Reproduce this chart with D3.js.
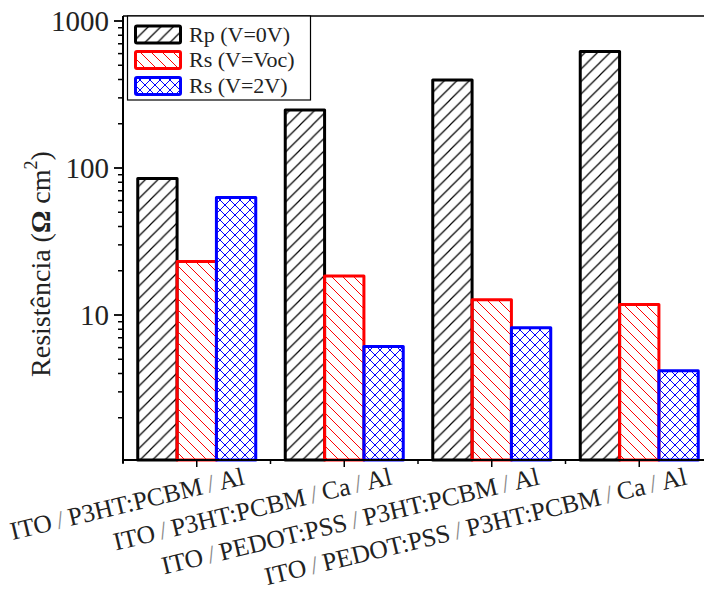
<!DOCTYPE html>
<html>
<head>
<meta charset="utf-8">
<script src="https://cdn.jsdelivr.net/npm/d3@7"></script>
<style>
  html, body { margin: 0; padding: 0; background: #fff; }
  svg, svg text { font-family: 'Liberation Serif', 'DejaVu Serif', 'Times New Roman', Times, serif; }
  svg { display: block; }
</style>
</head>
<body>
<svg id="chart" width="704" height="594"></svg>
<script>
// ---- data ----
const categories = [
  "ITO/P3HT:PCBM/Al",
  "ITO/P3HT:PCBM/Ca/Al",
  "ITO/PEDOT:PSS/P3HT:PCBM/Al",
  "ITO/PEDOT:PSS/P3HT:PCBM/Ca/Al"
];
const seriesNames = ["Rp (V=0V)", "Rs (V=Voc)", "Rs (V=2V)"];
const rpV0   = [85, 248, 397, 620];
const rsVoc  = [23.1, 18.4, 12.7, 11.8];
const rsV2   = [63, 6.1, 8.2, 4.17];
const yTickValues = [10, 100, 1000];
const yTickLabels = ["10", "100", "1000"];
const seriesColors = ["#000000", "#ff0000", "#0000ff"];

const seriesValues = [rpV0, rsVoc, rsV2];

(function () {
const FONT = "'Liberation Serif', 'DejaVu Serif', serif";
// ---- layout ----
const svg = d3.select("#chart").attr("font-family", FONT);
const axLeft = 123, axBottom = 460, axTop = 16, axRightEnd = 713;

const y = d3.scaleLog().domain([1, 1000]).range([462, 21]);
const x = d3.scaleBand().domain(categories).range([axLeft, axRightEnd])
  .paddingInner(0.2).paddingOuter(0.1);
const xs = d3.scaleBand().domain(d3.range(seriesNames.length)).range([0, x.bandwidth()]);

// ---- patterns ----
const defs = svg.append("defs");
function hatch(id, color, p, kinds, sw) {
  const pat = defs.append("pattern").attr("id", id)
    .attr("patternUnits", "userSpaceOnUse").attr("width", p).attr("height", p);
  let d = "";
  if (kinds.includes("/")) d += `M0,${p} L${p},0 M${-p/4},${p/4} L${p/4},${-p/4} M${p*3/4},${p*5/4} L${p*5/4},${p*3/4} `;
  if (kinds.includes("\\")) d += `M0,0 L${p},${p} M${-p/4},${p*3/4} L${p/4},${p*5/4} M${p*3/4},${-p/4} L${p*5/4},${p/4} `;
  pat.append("path").attr("d", d).attr("stroke", color).attr("stroke-width", sw).attr("fill", "none");
}
hatch("p0", seriesColors[0], 12.5, "/", 1.2);
hatch("p1", seriesColors[1], 11, "\\", 1);
hatch("p2", seriesColors[2], 10, "/\\", 1);

// ---- bars ----
seriesValues.forEach((vals, si) => {
  svg.append("g").selectAll("rect").data(vals).join("rect")
    .attr("x", (d, i) => x(categories[i]) + xs(si))
    .attr("y", d => y(d))
    .attr("width", xs.bandwidth())
    .attr("height", d => axBottom - y(d))
    .attr("fill", `url(#p${si})`)
    .attr("stroke", seriesColors[si])
    .attr("stroke-width", 3)
    .attr("stroke-linejoin", "round");
});

// ---- axes ----
svg.append("line").attr("x1", axLeft).attr("x2", 704).attr("y1", axTop).attr("y2", axTop)
  .attr("stroke", "#000").attr("stroke-width", 1.6);

const yAx = svg.append("g");
yAx.append("line").attr("x1", axLeft).attr("x2", axLeft).attr("y1", axTop).attr("y2", axBottom + 3)
  .attr("stroke", "#000").attr("stroke-width", 2);
const minorY = [];
[1, 10, 100].forEach(dec => { for (let k = 2; k <= 9; k++) minorY.push(dec * k); });
yAx.selectAll(".minor").data(minorY).join("line")
  .attr("x1", axLeft - 5).attr("x2", axLeft).attr("y1", d => y(d)).attr("y2", d => y(d))
  .attr("stroke", "#000").attr("stroke-width", 1.5);
yAx.selectAll(".major").data(yTickValues).join("line")
  .attr("x1", axLeft - 9).attr("x2", axLeft).attr("y1", d => y(d)).attr("y2", d => y(d))
  .attr("stroke", "#000").attr("stroke-width", 1.8);
yAx.selectAll("text").data(yTickValues).join("text")
  .attr("x", axLeft - 14).attr("y", d => y(d)).attr("dy", "0.34em")
  .attr("text-anchor", "end").attr("font-size", 29).attr("fill", "#222")
  .attr("font-family", FONT)
  .text((d, i) => yTickLabels[i]);

const yt = svg.append("text")
  .attr("transform", "translate(50,264) rotate(-90)")
  .attr("font-family", FONT)
  .attr("text-anchor", "middle").attr("font-size", 28).attr("fill", "#222");
yt.append("tspan").text("Resistência (");
yt.append("tspan").attr("font-weight", "bold").text("Ω");
yt.append("tspan").text(" cm");
yt.append("tspan").attr("font-size", 18).attr("dy", -13).text("2");
yt.append("tspan").attr("dy", 13).text(")");

const xAx = svg.append("g");
xAx.append("line").attr("x1", axLeft - 1).attr("x2", 704).attr("y1", axBottom).attr("y2", axBottom)
  .attr("stroke", "#000").attr("stroke-width", 2);
const bounds = categories.map(c => x(c) - x.step() * 0.1);
xAx.selectAll(".minor").data(bounds).join("line")
  .attr("x1", d => d).attr("x2", d => d).attr("y1", axBottom).attr("y2", axBottom + 4)
  .attr("stroke", "#000").attr("stroke-width", 1.5);
xAx.selectAll(".major").data(categories).join("line")
  .attr("x1", d => x(d) + x.bandwidth() / 2).attr("x2", d => x(d) + x.bandwidth() / 2)
  .attr("y1", axBottom).attr("y2", axBottom + 7)
  .attr("stroke", "#000").attr("stroke-width", 1.5);
xAx.selectAll("text").data(categories).join("text")
  .attr("transform", d => `translate(${x(d) + x.bandwidth() / 2 + 49},484) rotate(-13.5)`)
  .attr("font-family", FONT)
  .attr("text-anchor", "end").attr("font-size", 25.5).attr("fill", "#222")
  .each(function (d) {
    const parts = d.split("/");
    const t = d3.select(this);
    parts.forEach((p, i) => {
      if (i > 0) t.append("tspan").attr("fill", "#888").text("\u2009/\u2009");
      t.append("tspan").text(p);
    });
  });

// ---- legend ----
const lg = svg.append("g");
lg.append("rect").attr("x", 127.5).attr("y", 16).attr("width", 183).attr("height", 84)
  .attr("fill", "#fff").attr("stroke", "#000").attr("stroke-width", 1.2);
const rowsY = [34.5, 60, 86];
seriesNames.forEach((n, i) => {
  lg.append("rect").attr("x", 135.5).attr("y", rowsY[i] - 8.5).attr("width", 45).attr("height", 17)
    .attr("fill", `url(#p${i})`).attr("stroke", seriesColors[i]).attr("stroke-width", 3)
    .attr("rx", 1.5);
  lg.append("text").attr("x", 189).attr("y", rowsY[i] + 7).attr("font-size", 22).attr("fill", "#222")
    .attr("font-family", FONT)
    .text(n);
});
})();
</script>
</body>
</html>
